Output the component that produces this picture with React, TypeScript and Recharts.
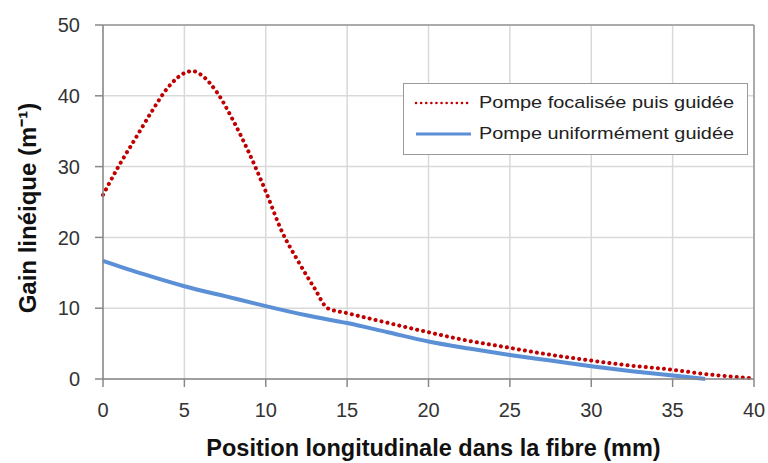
import {
  CartesianGrid,
  Label,
  Line,
  LineChart,
  ReferenceLine,
  XAxis,
  YAxis,
} from "recharts";

// Pompe focalisée puis guidée (red dotted)
const focalX = [0, 1, 2, 3, 4, 5, 5.5, 6, 7, 8, 9, 10, 11, 12, 13, 13.8, 15, 17, 20, 22, 25, 27, 30, 32, 35, 37, 40];
const focalGain = [26, 30.2, 34, 37.8, 41.2, 43.2, 43.5, 43, 40.5, 36.5, 31.8, 26.5, 20.8, 16.6, 12.8, 10, 9.3, 8.2, 6.6, 5.6, 4.4, 3.6, 2.6, 2.0, 1.3, 0.7, 0.1];

// Pompe uniformément guidée (blue solid)
const uniformX = [0, 2.5, 5, 7.5, 10, 12.5, 15, 17.5, 20, 22.5, 25, 27.5, 30, 32.5, 35, 37];
const uniformGain = [16.7, 14.8, 13.1, 11.7, 10.3, 9.0, 7.9, 6.6, 5.3, 4.3, 3.4, 2.6, 1.8, 1.1, 0.5, 0];

const xTicks = [0, 5, 10, 15, 20, 25, 30, 35, 40];
const yTicks = [0, 10, 20, 30, 40, 50];

const focalData = focalX.map((x, i) => ({ x, gain: focalGain[i] }));
const uniformData = uniformX.map((x, i) => ({ x, gain: uniformGain[i] }));

const RED = "#c00000";
const BLUE = "#5b8fd6";
const FONT = "'Liberation Sans', Arial, sans-serif";

const LegendBox = () => (
  <div
    style={{
      position: "absolute",
      left: 403,
      top: 83,
      border: "1px solid #9a9a9a",
      background: "#fff",
      width: 345,
      height: 72,
      boxSizing: "border-box",
    }}
  >
    <svg width={343} height={70} style={{ display: "block" }}>
      <line x1={12} y1={19} x2={67} y2={19} stroke={RED} strokeWidth={2.5} strokeDasharray="0.1 5" strokeLinecap="round" />
      <text x={75} y={24} fontSize={17} fontFamily={FONT} fill="#222" textLength={255} lengthAdjust="spacingAndGlyphs">
        Pompe focalisée puis guidée
      </text>
      <line x1={12} y1={50} x2={67} y2={50} stroke={BLUE} strokeWidth={3} />
      <text x={75} y={55} fontSize={17} fontFamily={FONT} fill="#222" textLength={255} lengthAdjust="spacingAndGlyphs">
        Pompe uniformément guidée
      </text>
    </svg>
  </div>
);

const App = () => {
  return (
    <div style={{ position: "absolute", left: 0, top: 0, width: 768, height: 463, background: "#fff" }}>
      <LineChart
        width={768}
        height={463}
        margin={{ top: 25, right: 14, bottom: 54, left: 43 }}
      >
        <CartesianGrid stroke="#d9d9d9" strokeWidth={1.5} />
        <XAxis
          type="number"
          dataKey="x"
          domain={[0, 40]}
          ticks={xTicks}
          allowDuplicatedCategory={false}
          height={30}
          stroke="#888"
          strokeWidth={1.5}
          tickSize={8}
          tickMargin={16}
          tick={{ fill: "#333", fontSize: 20, fontFamily: FONT }}
        >
          <Label
            value="Position longitudinale dans la fibre (mm)"
            position="center"
            dy={54}
            dx={5}
            style={{ fontWeight: "bold", fontSize: 23.5, fontFamily: FONT, fill: "#111" }}
          />
        </XAxis>
        <YAxis
          type="number"
          domain={[0, 50]}
          ticks={yTicks}
          width={60}
          stroke="#888"
          strokeWidth={1.5}
          tickSize={8}
          tickMargin={15}
          tick={{ fill: "#333", fontSize: 20, fontFamily: FONT }}
        >
          <Label
            value="Gain linéique (m⁻¹)"
            angle={-90}
            position="center"
            dx={-46}
            dy={6}
            style={{ fontWeight: "bold", fontSize: 24, fontFamily: FONT, fill: "#111", textAnchor: "middle" }}
          />
        </YAxis>
        <ReferenceLine y={50} stroke="#999" strokeWidth={1.5} />
        <ReferenceLine x={40} stroke="#999" strokeWidth={1.5} />
        <Line
          data={uniformData}
          dataKey="gain"
          type="monotone"
          stroke={BLUE}
          strokeWidth={4}
          dot={false}
          isAnimationActive={false}
          name="Pompe uniformément guidée"
        />
        <Line
          data={focalData}
          dataKey="gain"
          type="monotone"
          stroke={RED}
          strokeWidth={4}
          strokeDasharray="0.1 6"
          strokeLinecap="round"
          dot={false}
          isAnimationActive={false}
          name="Pompe focalisée puis guidée"
        />
      </LineChart>
      <LegendBox />
    </div>
  );
};

export default App;
